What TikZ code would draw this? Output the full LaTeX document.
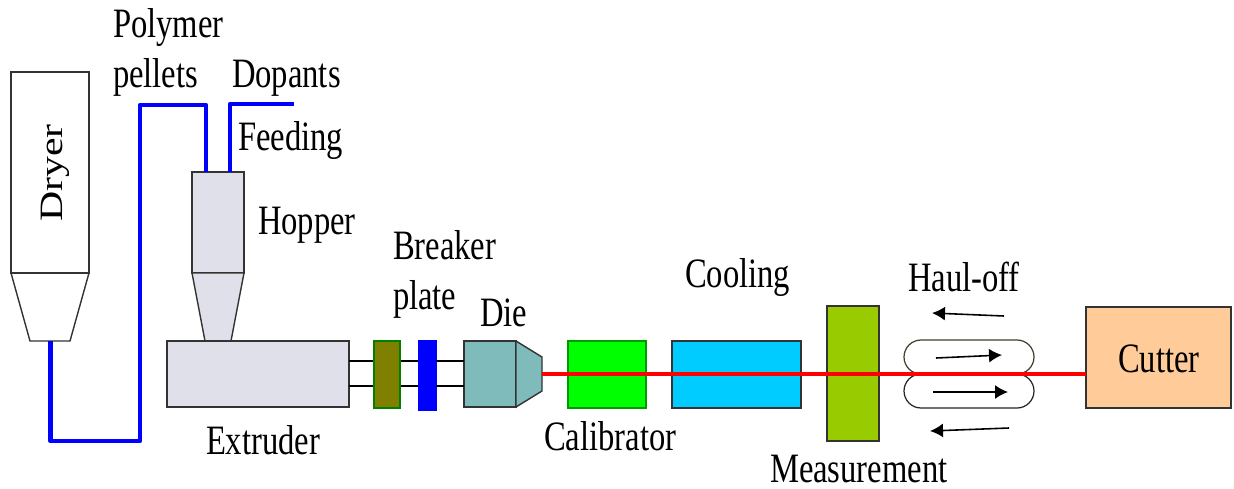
\documentclass[tikz,border=0pt]{standalone}
\usepackage{fontspec}
\setmainfont{Liberation Serif}
\usepackage{tikz}
\usetikzlibrary{arrows.meta}

\definecolor{hoppergray}{RGB}{224,224,234}
\definecolor{plateolive}{RGB}{128,128,0}
\definecolor{dieteal}{RGB}{128,187,187}
\definecolor{gaugegreen}{RGB}{153,204,0}
\definecolor{coolcyan}{RGB}{0,204,255}
\definecolor{cutterpeach}{RGB}{255,204,153}

\tikzset{
	box/.style={draw=black!80,line width=0.8pt,inner sep=0pt,outer sep=0pt},
	lbl/.style={inner sep=0pt,outer sep=0pt,anchor=base west,xscale=0.78,font=\fontsize{23.8}{26}\selectfont},
	feedline/.style={blue,line width=2.6pt,line join=round},
	haularrow/.style={black,line width=0.9pt,-{Latex[length=0.26cm,width=0.28cm]}}
}

\begin{document}
\begin{tikzpicture}[x=0.02cm,y=-0.02cm]
	\useasboundingbox (0,0) rectangle (1234,488);
	
	% dryer and hopper
	\node[box,minimum width=1.56cm,minimum height=4.02cm] (dryer) at (50,172.5) {};
	\draw[box] (dryer.south west) -- (30,341) -- (70,341) -- (dryer.south east);
	\coordinate (dryerout) at (50.5,341);
	\node[box,fill=hoppergray,minimum width=1.04cm,minimum height=2.02cm] (hopper) at (218,222.5) {};
	\draw[box,fill=hoppergray] (hopper.south west) -- (205,341) -- (231,341) -- (hopper.south east) -- cycle;
	
	% extruder line
	\node[box,fill=hoppergray,minimum width=3.64cm,minimum height=1.32cm] (extruder) at (258,374) {};
	\node[draw=green!50!black,line width=0.6pt,fill=plateolive,inner sep=0pt,minimum width=0.52cm,minimum height=1.34cm] (plate) at (387,374.5) {};
	\node[draw=blue,fill=blue,inner sep=0pt,minimum width=0.36cm,minimum height=1.40cm] (breaker) at (427,375) {};
	\node[box,fill=dieteal,minimum width=1.04cm,minimum height=1.32cm] (die) at (490,374) {};
	\draw[box,fill=dieteal] (die.north east) -- (542,357) -- (542,391) -- (die.south east) -- cycle;
	\coordinate (nose) at (542,374);
	\node[draw=green!60!black,line width=0.6pt,fill=green,inner sep=0pt,minimum width=1.56cm,minimum height=1.34cm] (calibrator) at (607,374.5) {};
	\node[box,fill=coolcyan,minimum width=2.58cm,minimum height=1.34cm] (cooling) at (736.5,374.5) {};
	\node[box,fill=gaugegreen,minimum width=1.04cm,minimum height=2.70cm] (gauge) at (853,373.5) {};
	\node[box,fill=cutterpeach,minimum width=2.90cm,minimum height=2.02cm] (cutter) at (1158.5,357.5) {};
	
	% rollers
	\node[draw=black!70!olive,line width=0.7pt,inner sep=0pt,rounded corners=0.34cm,minimum width=2.60cm,minimum height=0.68cm] (rollup) at (969,357) {};
	\node[draw=black!85,line width=0.7pt,inner sep=0pt,rounded corners=0.34cm,minimum width=2.60cm,minimum height=0.68cm] (rolldown) at (969,391) {};
	
	% barrel rods
	\foreach \y in {361,386}{
		\draw[black,line width=0.8pt] (extruder.east |- 0,\y) -- (plate.west |- 0,\y);
		\draw[black,line width=0.8pt] (plate.east |- 0,\y) -- (breaker.west |- 0,\y);
		\draw[black,line width=0.8pt] (breaker.east |- 0,\y) -- (die.west |- 0,\y);
	}
	
	% feed lines
	\coordinate (pelletin) at (206,172);
	\coordinate (dopantin) at (230,172);
	\coordinate (dopantend) at (294,104);
	\draw[feedline] (dryerout) -- (50.5,441) -- (140,441) -- (140,105) -- (206,105) -- (pelletin);
	\draw[feedline] (dopantin) -- (dopantin |- dopantend) -- (dopantend);
	
	% product
	\draw[red,line width=2.4pt] (nose) -- (cutter.west |- nose);
	
	% haul-off arrows
	\coordinate (topa) at (1004,316);
	\coordinate (topb) at (932,313);
	\coordinate (upa) at (936,358);
	\coordinate (upb) at (1002,355);
	\coordinate (lowa) at (933,392);
	\coordinate (lowb) at (1008,392);
	\coordinate (bota) at (1009,428);
	\coordinate (botb) at (930,431);
	\draw[haularrow] (topa) -- (topb);
	\draw[haularrow] (upa) -- (upb);
	\draw[haularrow] (lowa) -- (lowb);
	\draw[haularrow] (bota) -- (botb);
	
	% labels
	\node[lbl,anchor=base,rotate=90] (dryerlbl) at (62,173) {Dryer};
	\node[lbl] (polymerlbl) at (113,37) {Polymer};
	\node[lbl] (pelletslbl) at (113,87) {pellets};
	\node[lbl] (dopantslbl) at (232,87) {Dopants};
	\node[lbl] (feedinglbl) at (238,150) {Feeding};
	\node[lbl] (hopperlbl) at (258,234) {Hopper};
	\node[lbl] (breakerlbl) at (393,259) {Breaker};
	\node[lbl] (platelbl) at (393,309) {plate};
	\node[lbl] (dielbl) at (480,326) {Die};
	\node[lbl] (coolinglbl) at (685,287) {Cooling};
	\node[lbl] (haullbl) at (908,291) {Haul-off};
	\node[lbl] (calibratorlbl) at (544,450) {Calibrator};
	\node[lbl] (extruderlbl) at (206,454) {Extruder};
	\node[lbl] (measurelbl) at (770,482) {Measurement};
	\node[lbl] (cutterlbl) at (1118,372) {Cutter};
\end{tikzpicture}
\end{document}
